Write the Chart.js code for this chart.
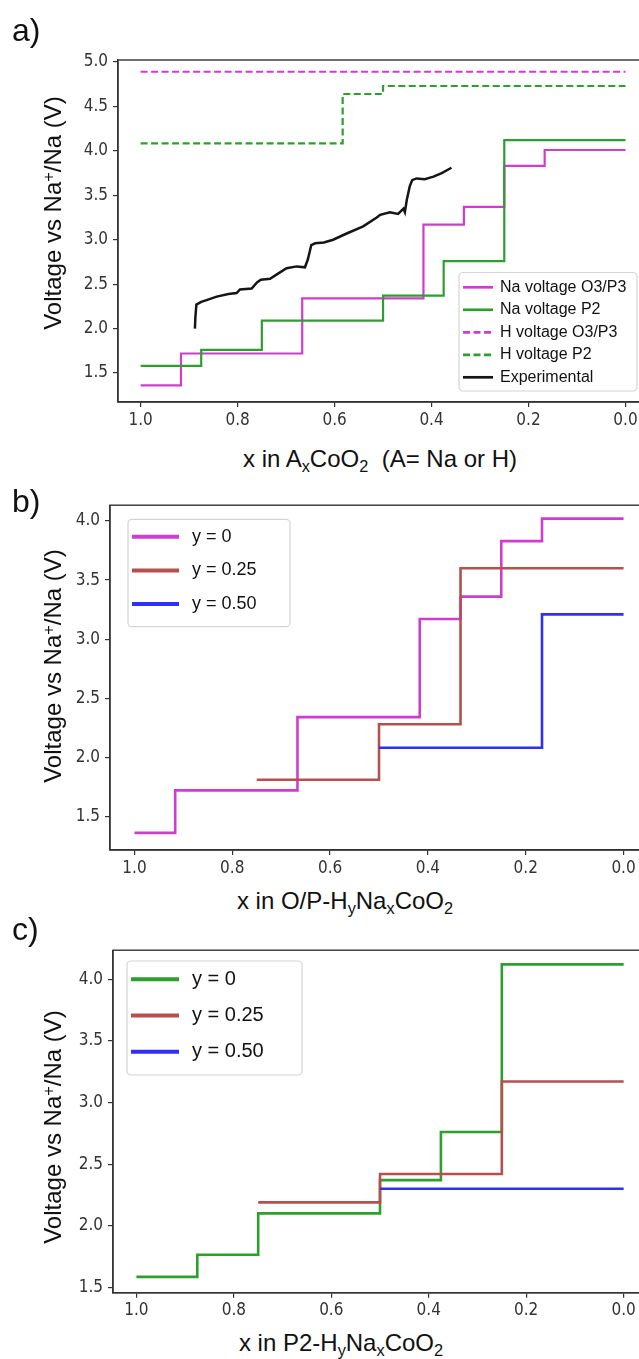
<!DOCTYPE html>
<html><head><meta charset="utf-8">
<script src="https://cdn.jsdelivr.net/npm/chart.js@4.4.1/dist/chart.umd.min.js"></script>
<style>
html,body{margin:0;padding:0;background:#fff;}
body{width:639px;height:1359px;overflow:hidden;position:relative;}
canvas{position:absolute;left:0;}
.t{position:absolute;font-family:"Liberation Sans",Arial,sans-serif;color:#111;white-space:nowrap;line-height:1;}
.yt{font-size:24px;transform:translate(-50%,-50%) rotate(-90deg);line-height:28px;}
.xt{font-size:24px;transform:translateX(-50%);}
.pl{font-size:32px;}
.sb{font-size:0.68em;position:relative;top:0.3em;}
.sp{font-size:0.68em;position:relative;top:-0.45em;}
</style></head><body>
<canvas id="ca" width="660" height="440" style="top:0px"></canvas>
<canvas id="cb" width="660" height="390" style="top:490px"></canvas>
<canvas id="cc" width="660" height="390" style="top:935px"></canvas>

<div class="t pl" style="left:12px;top:14px">a)</div>
<div class="t pl" style="left:12px;top:485px">b)</div>
<div class="t pl" style="left:12px;top:913px">c)</div>

<div class="t yt" style="left:54px;top:213px">Voltage vs Na<span class="sp">+</span>/Na (V)</div>
<div class="t yt" style="left:54px;top:666px">Voltage vs Na<span class="sp">+</span>/Na (V)</div>
<div class="t yt" style="left:54px;top:1127px">Voltage vs Na<span class="sp">+</span>/Na (V)</div>

<div class="t xt" style="left:380px;top:447px">x in A<span class="sb">x</span>CoO<span class="sb">2</span>&nbsp; (A= Na or H)</div>
<div class="t xt" style="left:345px;top:889px">x in O/P-H<span class="sb">y</span>Na<span class="sb">x</span>CoO<span class="sb">2</span></div>
<div class="t xt" style="left:341px;top:1331px">x in P2-H<span class="sb">y</span>Na<span class="sb">x</span>CoO<span class="sb">2</span></div>

<script>
// ---------- data ----------
const xTicks = [1.0, 0.8, 0.6, 0.4, 0.2, 0.0];
const yTicksA = [1.5, 2.0, 2.5, 3.0, 3.5, 4.0, 4.5, 5.0];
const yTicksBC = [1.5, 2.0, 2.5, 3.0, 3.5, 4.0];

const labelsA = ['Na voltage O3/P3', 'Na voltage P2', 'H voltage O3/P3', 'H voltage P2', 'Experimental'];
const labelsBC = ['y = 0', 'y = 0.25', 'y = 0.50'];

// panel a
const xNaO3 = [1.0, 0.9167, 0.6667, 0.4167, 0.3333, 0.25, 0.1667, 0.0];
const vNaO3 = [1.36, 1.72, 2.34, 3.17, 3.37, 3.83, 4.01, 4.01];
const xNaP2 = [1.0, 0.875, 0.75, 0.5, 0.375, 0.25, 0.0];
const vNaP2 = [1.58, 1.76, 2.09, 2.37, 2.76, 4.12, 4.12];
const xHO3 = [1.0, 0.0];
const vHO3 = [4.89, 4.89];
const xHP2 = [1.0, 0.5833, 0.5, 0.0];
const vHP2 = [4.085, 4.64, 4.73, 4.73];
const xExp = [0.888, 0.887, 0.885, 0.875, 0.864, 0.843, 0.819, 0.802, 0.795, 0.771, 0.760, 0.752, 0.733, 0.719, 0.699, 0.678, 0.661, 0.655, 0.648, 0.640, 0.622, 0.603, 0.575, 0.541, 0.513, 0.506, 0.486, 0.469, 0.458, 0.455, 0.451, 0.445, 0.440, 0.431, 0.414, 0.396, 0.379, 0.359];
const vExp = [2.00, 2.13, 2.27, 2.30, 2.32, 2.36, 2.39, 2.40, 2.44, 2.45, 2.52, 2.55, 2.56, 2.61, 2.68, 2.70, 2.69, 2.78, 2.94, 2.96, 2.97, 3.00, 3.07, 3.15, 3.25, 3.28, 3.31, 3.29, 3.35, 3.31, 3.45, 3.60, 3.67, 3.69, 3.68, 3.71, 3.75, 3.81];

// panel b
const xB0 = [1.0, 0.9167, 0.6667, 0.4167, 0.3333, 0.25, 0.1667, 0.0];
const vB0 = [1.36, 1.72, 2.34, 3.17, 3.36, 3.83, 4.02, 4.02];
const xB25 = [0.75, 0.5, 0.3333, 0.0];
const vB25 = [1.81, 2.28, 3.60, 3.60];
const xB50 = [0.5, 0.1667, 0.0];
const vB50 = [2.08, 3.21, 3.21];

// panel c
const xC0 = [1.0, 0.875, 0.75, 0.5, 0.375, 0.25, 0.0];
const vC0 = [1.585, 1.765, 2.10, 2.37, 2.76, 4.12, 4.12];
const xC25 = [0.75, 0.5, 0.25, 0.0];
const vC25 = [2.19, 2.42, 3.17, 3.17];
const xC50 = [0.5, 0.0];
const vC50 = [2.30, 2.30];

// ---------- style ----------
const MAG = '#cf3dcf', GRN = '#2e9e2e', BLK = '#151515', BRN = '#b84f4f', BLU = '#3030f0';
const TF = '"DejaVu Sans Condensed","DejaVu Sans",sans-serif';
const LF = '"Liberation Sans",Arial,sans-serif';

function pts(xs, vs) { return xs.map((x, i) => ({x: x, y: vs[i]})); }
function line(label, xs, vs, color, opts) {
  return Object.assign({label, data: pts(xs, vs), borderColor: color, backgroundColor: color,
    borderWidth: 2.2, pointRadius: 0, fill: false, stepped: 'before', tension: 0}, opts || {});
}

const framePlugin = {
  id: 'frameLegend',
  afterDatasetsDraw(chart, args, o) {
    const ctx = chart.ctx, a = chart.chartArea;
    ctx.save();
    ctx.strokeStyle = '#333'; ctx.lineWidth = 1.4;
    ctx.strokeRect(a.left, a.top, a.right - a.left, a.bottom - a.top);
    // legend box
    ctx.beginPath();
    ctx.roundRect(o.x, o.y, o.w, o.h, 4);
    ctx.fillStyle = 'rgba(255,255,255,0.85)';
    ctx.fill();
    ctx.lineWidth = 1.2; ctx.strokeStyle = '#d4d4d4'; ctx.stroke();
    chart.data.datasets.forEach((ds, i) => {
      const cy = o.rowY + i * o.rowH;
      ctx.beginPath();
      ctx.setLineDash(ds.borderDash || []);
      ctx.strokeStyle = ds.borderColor; ctx.lineWidth = o.lw;
      ctx.moveTo(o.sx0, cy); ctx.lineTo(o.sx1, cy); ctx.stroke();
      ctx.setLineDash([]);
      ctx.fillStyle = '#111'; ctx.font = o.font; ctx.textBaseline = 'middle'; ctx.textAlign = 'left';
      ctx.fillText(ds.label, o.tx, cy);
    });
    ctx.restore();
  }
};

function scales(xmin, xmax, ymin, ymax, yTicks, yW, xH, fs) {
  const tick = {color: '#333', font: {family: TF, size: fs}, padding: 3, maxRotation: 0, autoSkip: false,
    callback: v => Number(v).toFixed(1)};
  const grid = {drawOnChartArea: false, tickLength: 5, color: '#333', lineWidth: 1.2};
  const border = {display: true, color: '#333', width: 1.4};
  return {
    x: {type: 'linear', reverse: true, min: xmin, max: xmax,
      afterBuildTicks: s => { s.ticks = xTicks.map(v => ({value: v})); },
      afterFit: s => { s.height = xH; },
      ticks: tick, grid: grid, border: border},
    y: {type: 'linear', min: ymin, max: ymax,
      afterBuildTicks: s => { s.ticks = yTicks.map(v => ({value: v})); },
      afterFit: s => { s.width = yW; },
      ticks: Object.assign({}, tick, {padding: 5}), grid: grid, border: border}
  };
}

function make(id, datasets, sc, pad, legend) {
  datasets.forEach((d, i) => { d.order = datasets.length - i; });
  return new Chart(document.getElementById(id), {
    type: 'line',
    data: {datasets},
    options: {
      responsive: false, animation: false, devicePixelRatio: 1,
      layout: {padding: pad},
      scales: sc,
      plugins: {legend: {display: false}, tooltip: {enabled: false}, frameLegend: legend}
    },
    plugins: [framePlugin]
  });
}

// panel a
make('ca', [
  line(labelsA[0], xNaO3, vNaO3, MAG),
  line(labelsA[1], xNaP2, vNaP2, GRN),
  line(labelsA[2], xHO3, vHO3, MAG, {borderDash: [7, 3.5]}),
  line(labelsA[3], xHP2, vHP2, GRN, {borderDash: [7, 3.5]}),
  line(labelsA[4], xExp, vExp, BLK, {stepped: false, borderWidth: 2.5})
], scales(-0.0505, 1.0466, 1.174, 5.0225, yTicksA, 118, 38, 17),
  {top: 60, left: 0, right: 10, bottom: 0},
  {x: 459, y: 272.5, w: 178, h: 118.5, rowY: 287.3, rowH: 22.5, sx0: 463, sx1: 493, tx: 500, lw: 2.7, font: '16px ' + LF});

// panel b
make('cb', [
  line(labelsBC[0], xB0, vB0, MAG, {borderWidth: 2.6}),
  line(labelsBC[1], xB25, vB25, BRN, {borderWidth: 2.6}),
  line(labelsBC[2], xB50, vB50, BLU, {borderWidth: 2.6})
], scales(-0.05, 1.05, 1.215, 4.134, yTicksBC, 110, 30, 17),
  {top: 11.7, left: 0, right: 12, bottom: 0},
  {x: 128, y: 29.3, w: 162, h: 107.4, rowY: 46.7, rowH: 33.7, sx0: 132, sx1: 179, tx: 192, lw: 4, font: '18px ' + LF});

// panel c
make('cc', [
  line(labelsBC[0], xC0, vC0, GRN, {borderWidth: 2.6}),
  line(labelsBC[1], xC25, vC25, BRN, {borderWidth: 2.6}),
  line(labelsBC[2], xC50, vC50, BLU, {borderWidth: 2.6})
], scales(-0.05, 1.048, 1.457, 4.235, yTicksBC, 113, 32.3, 17),
  {top: 11.7, left: 0, right: 12, bottom: 0},
  {x: 127, y: 26, w: 175, h: 114, rowY: 44.3, rowH: 36.2, sx0: 131, sx1: 179, tx: 192, lw: 4, font: '20px ' + LF});
</script>
</body></html>
